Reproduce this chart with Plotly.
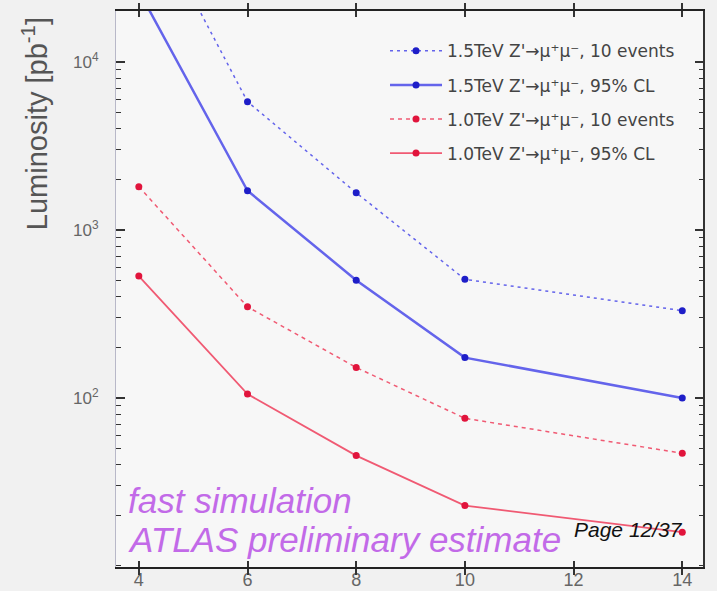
import plotly.graph_objects as go

# Points studied on the x axis
x_vals = [4, 6, 8, 10, 14]

# Required integrated luminosity [pb^-1]
lumi_15_10ev = [98000, 5810, 1667, 509, 331]
lumi_15_cl95 = [26500, 1714, 503, 174, 100]
lumi_10_10ev = [1812, 349, 152, 75.7, 46.9]
lumi_10_cl95 = [532, 105.6, 45.4, 22.9, 15.9]

names = [
    "1.5TeV Z'\u2192\u03bc\u207a\u03bc\u207b, 10 events",
    "1.5TeV Z'\u2192\u03bc\u207a\u03bc\u207b, 95% CL",
    "1.0TeV Z'\u2192\u03bc\u207a\u03bc\u207b, 10 events",
    "1.0TeV Z'\u2192\u03bc\u207a\u03bc\u207b, 95% CL",
]

x_ticks = [4, 6, 8, 10, 12, 14]
y_major = [100, 1000, 10000]
# every 1..9 x 10^d position; labels only on the decades
y_all = [k * 10 ** d for d in range(1, 5) for k in range(1, 10)]
y_all_text = [f"10<sup>{d}</sup>" if (k == 1 and d >= 2) else " "
              for d in range(1, 5) for k in range(1, 10)]

BLUE_LINE = "rgb(100,100,235)"
BLUE_MARK = "rgb(30,30,200)"
RED_LINE = "rgb(240,90,115)"
RED_MARK = "rgb(225,20,60)"

# (values, line colour, marker colour, dash, width, y axis)
series = [
    (lumi_15_10ev, BLUE_LINE, BLUE_MARK, "3px,4px", 1.5, "y"),
    (lumi_15_cl95, BLUE_LINE, BLUE_MARK, "solid", 2.5, "y"),
    (lumi_10_10ev, RED_LINE, RED_MARK, "4px,4px", 1.5, "y2"),
    (lumi_10_cl95, RED_LINE, RED_MARK, "solid", 1.8, "y2"),
]

fig = go.Figure()
for i, (vals, lc, mc, dash, w, ax) in enumerate(series):
    fig.add_trace(go.Scatter(
        x=x_vals, y=vals, name=names[i], mode="lines+markers",
        legendgroup=f"g{i}", yaxis=ax,
        line=dict(color=lc, width=w, dash=dash),
        marker=dict(color=mc, size=7, symbol="circle"),
    ))

FONT = "Liberation Sans, Arial, sans-serif"
Y_RANGE = [0.994, 4.304]

fig.update_layout(
    width=717, height=591,
    margin=dict(l=116, r=13, t=11, b=24),
    paper_bgcolor="#f1f1f1",
    plot_bgcolor="#f7f7f7",
    font=dict(family=FONT, color="#555"),
    showlegend=True,
    legend=dict(
        x=0.4575, y=0.96, xanchor="left", yanchor="top",
        bgcolor="rgba(0,0,0,0)", borderwidth=0,
        font=dict(size=17, color="#444", family="DejaVu Sans, sans-serif"),
        traceorder="grouped", tracegroupgap=9,
        itemwidth=52,
    ),
    xaxis=dict(
        range=[3.58, 14.4],
        tickvals=x_ticks,
        ticks="inside", ticklen=6, tickwidth=1.5, tickcolor="#333",
        showline=True, linecolor="#222", linewidth=2, mirror="allticks",
        showgrid=False, zeroline=False, automargin=False,
        tickfont=dict(size=18, color="#666"),
        ticklabelstandoff=-5,
    ),
    # full set of log ticks (short), labelled at the decades
    yaxis=dict(
        type="log", range=Y_RANGE,
        tickvals=y_all, ticktext=y_all_text,
        ticks="inside", ticklen=5, tickwidth=1.2, tickcolor="#333",
        showline=True, linecolor="#b8b8c8", linewidth=1, mirror="allticks",
        showgrid=False, zeroline=False, automargin=False,
        tickfont=dict(size=17, color="#666"),
        ticklabelstandoff=13,
    ),
    # same log scale, carrying the longer decade ticks
    yaxis2=dict(
        type="log", range=Y_RANGE, overlaying="y", anchor="x", side="left",
        tickvals=y_major, showticklabels=False,
        ticks="inside", ticklen=9, tickwidth=1.5, tickcolor="#333",
        showline=False, mirror="allticks",
        showgrid=False, zeroline=False, automargin=False,
    ),
    shapes=[
        dict(type="line", xref="paper", yref="paper", x0=1, x1=1, y0=0, y1=1,
             line=dict(color="#333", width=2)),
    ],
    annotations=[
        dict(text="Luminosity [pb<sup>-1</sup>]", xref="paper", yref="paper",
             x=-0.138, y=0.798, textangle=-90, showarrow=False,
             font=dict(size=29, color="#555", family=FONT),
             xanchor="center", yanchor="middle"),
        dict(text="<i>fast simulation</i>", xref="paper", yref="paper",
             x=0.017, y=(567 - 500) / 556, xanchor="left", yanchor="middle",
             showarrow=False, font=dict(size=35, color="#c26ae8", family=FONT)),
        dict(text="<i>ATLAS preliminary estimate</i>", xref="paper", yref="paper",
             x=0.017, y=(567 - 539) / 556, xanchor="left", yanchor="middle",
             showarrow=False, font=dict(size=35, color="#c26ae8", family=FONT)),
        dict(text="<i>Page 12/37</i>", xref="paper", yref="paper",
             x=(572 - 116) / 588, y=(567 - 529) / 556, xanchor="left",
             yanchor="middle", showarrow=False,
             font=dict(size=21, color="#111", family=FONT)),
    ],
)

fig.write_html("out.html")
